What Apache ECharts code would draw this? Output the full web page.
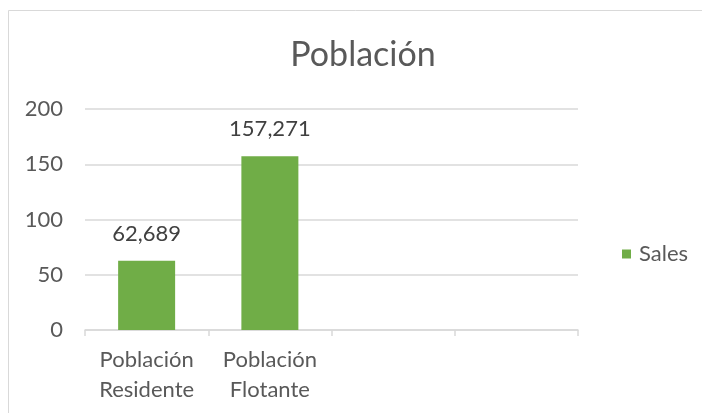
<!DOCTYPE html>
<html>
<head>
<meta charset="utf-8">
<script src="https://cdn.jsdelivr.net/npm/echarts@6/dist/echarts.min.js"></script>
<style>
  html, body { margin: 0; padding: 0; background: #fff; }
  #chart { width: 702px; height: 413px; }
</style>
</head>
<body>
<div id="chart"></div>
<script>
// datos del grafico
const categorias = ["Población\nResidente", "Población\nFlotante", "", ""];
const ventas = [62.689, 157.271, null, null];
const yTicks = { min: 0, max: 200, interval: 50 };
const nombreSerie = "Sales";
const titulo = "Población";

let dom = document.getElementById("chart");
let myChart = echarts.init(dom, null, { renderer: "canvas" });

const fuente = "Lato";
const gris = "#595959";
const lineaGris = "#d9d9d9";

let option = {
  animation: false,
  backgroundColor: "#fff",
  textStyle: { fontFamily: fuente },
  graphic: [
    {
      type: "rect",
      shape: { x: 8.5, y: 10.5, width: 800, height: 500 },
      style: { fill: "none", stroke: lineaGris, lineWidth: 1 },
      silent: true,
    },
  ],
  title: {
    text: titulo,
    left: 358,
    textAlign: "center",
    top: 33,
    textStyle: { fontFamily: fuente, fontSize: 34, fontWeight: "normal", color: gris },
  },
  legend: {
    left: 617,
    top: 238,
    icon: "rect",
    itemWidth: 9,
    itemHeight: 9,
    textStyle: { fontFamily: fuente, fontSize: 22, color: gris, padding: [0, 0, 0, 3] },
    data: [nombreSerie],
  },
  grid: { left: 85, right: 124, top: 109, bottom: 83, outerBoundsMode: "none" },
  xAxis: {
    type: "category",
    data: categorias,
    axisLine: { lineStyle: { color: lineaGris, width: 1.5 } },
    axisTick: { show: true, length: 6, lineStyle: { color: lineaGris, width: 1.5 } },
    axisLabel: {
      interval: 0,
      margin: 15,
      fontFamily: fuente,
      fontSize: 22,
      lineHeight: 30,
      color: gris,
    },
  },
  yAxis: {
    type: "value",
    min: yTicks.min,
    max: yTicks.max,
    interval: yTicks.interval,
    axisLine: { show: false },
    axisTick: { show: false },
    splitLine: { lineStyle: { color: lineaGris, width: 1.5 } },
    axisLabel: { margin: 22, fontFamily: fuente, fontSize: 22, color: gris },
  },
  series: [
    {
      name: nombreSerie,
      type: "bar",
      data: ventas,
      barWidth: 57,
      itemStyle: { color: "#70ad47" },
      label: {
        show: true,
        position: "top",
        distance: 16,
        fontFamily: fuente,
        fontSize: 22,
        color: "#404040",
        formatter: (p) => p.value.toFixed(3).replace(".", ","),
      },
    },
  ],
};

myChart.setOption(option);
window.addEventListener("resize", myChart.resize);
</script>
</body>
</html>
